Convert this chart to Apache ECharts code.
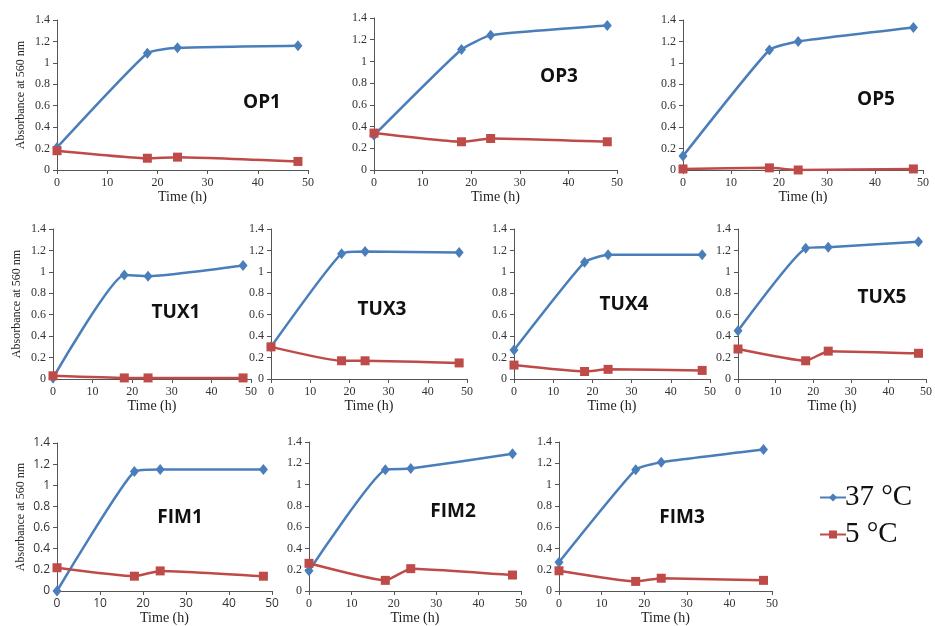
<!DOCTYPE html>
<html>
<head>
<meta charset="utf-8">
<script src="https://cdn.jsdelivr.net/npm/echarts@6/dist/echarts.min.js"></script>
<style>
  html, body { margin: 0; padding: 0; background: #fff; }
  #chart { width: 935px; height: 626px; }
</style>
</head>
<body>
<div id="chart"></div>
<script>
// sampling times (h)
const times = [0, 18, 24, 48];
const panelNames = ["OP1", "OP3", "OP5", "TUX1", "TUX3", "TUX4", "TUX5", "FIM1", "FIM2", "FIM3"];
const xTicks = [0, 10, 20, 30, 40, 50];
const yTicks = [0, 0.2, 0.4, 0.6, 0.8, 1, 1.2, 1.4];

// absorbance at 560 nm, 37 °C
const OP1_37 = [0.21, 1.09, 1.14, 1.16];
const OP3_37 = [0.32, 1.11, 1.24, 1.33];
const OP5_37 = [0.13, 1.12, 1.20, 1.33];
const TUX1_37 = [0.01, 0.97, 0.96, 1.06];
const TUX3_37 = [0.30, 1.17, 1.19, 1.18];
const TUX4_37 = [0.27, 1.09, 1.16, 1.16];
const TUX5_37 = [0.45, 1.22, 1.23, 1.28];
const FIM1_37 = [0.00, 1.13, 1.15, 1.15];
const FIM2_37 = [0.19, 1.14, 1.15, 1.29];
const FIM3_37 = [0.27, 1.14, 1.21, 1.33];

// absorbance at 560 nm, 5 °C
const OP1_5 = [0.18, 0.11, 0.12, 0.08];
const OP3_5 = [0.34, 0.26, 0.29, 0.26];
const OP5_5 = [0.01, 0.02, 0.00, 0.01];
const TUX1_5 = [0.03, 0.01, 0.01, 0.01];
const TUX3_5 = [0.30, 0.17, 0.17, 0.15];
const TUX4_5 = [0.13, 0.07, 0.09, 0.08];
const TUX5_5 = [0.28, 0.17, 0.26, 0.24];
const FIM1_5 = [0.22, 0.14, 0.19, 0.14];
const FIM2_5 = [0.26, 0.10, 0.21, 0.15];
const FIM3_5 = [0.19, 0.09, 0.12, 0.10];

const warm = [OP1_37, OP3_37, OP5_37, TUX1_37, TUX3_37, TUX4_37, TUX5_37, FIM1_37, FIM2_37, FIM3_37];
const cold = [OP1_5, OP3_5, OP5_5, TUX1_5, TUX3_5, TUX4_5, TUX5_5, FIM1_5, FIM2_5, FIM3_5];

// layout: plot boxes [x0, y0, x1, y1] and panel label centres
const boxes = [
  [57, 20, 308, 170], [374, 18, 617, 170], [683, 20, 923, 170],
  [53, 229, 251, 379], [271, 229, 467, 379], [514, 229, 710, 379], [738, 229, 929, 379],
  [57, 443, 272, 593], [309, 442, 521, 593], [559, 442, 772, 593]
];
const labelPos = [
  [262, 103], [559, 77], [876, 100],
  [176, 313], [382, 310], [624, 305], [882, 298],
  [180, 518], [453, 512], [682, 518]
];
const withYName = [0, 3, 7];

const BLUE = "#4a7ebb";
const RED = "#be4b48";
const SERIF = "'Liberation Serif', 'DejaVu Serif', serif";
const SANS = "'Open Sans', 'Liberation Sans', sans-serif";

const myChart = echarts.init(document.getElementById("chart"), null, { renderer: "canvas" });

const grid = [], xAxis = [], yAxis = [], series = [], graphic = [];

boxes.forEach((b, i) => {
  const tickFont = i === 7 ? SANS : SERIF;
  grid.push({ left: b[0], top: b[1], width: b[2] - b[0], height: b[3] - b[1], containLabel: false });
  xAxis.push({
    gridIndex: i,
    type: "value",
    min: xTicks[0],
    max: xTicks[xTicks.length - 1],
    interval: 10,
    name: "Time (h)",
    nameLocation: "middle",
    nameGap: 20,
    nameTextStyle: { fontFamily: SERIF, fontSize: 14, color: "#222" },
    axisLine: { onZero: false, lineStyle: { color: "#555", width: 1 } },
    axisTick: { show: true, length: 4, lineStyle: { color: "#555" } },
    axisLabel: { fontFamily: tickFont, fontSize: 12, color: "#333", margin: 7 },
    splitLine: { show: false }
  });
  yAxis.push({
    gridIndex: i,
    type: "value",
    min: yTicks[0],
    max: yTicks[yTicks.length - 1],
    interval: 0.2,
    name: withYName.includes(i) ? "Absorbance at 560 nm" : "",
    nameLocation: "middle",
    nameGap: 30,
    nameTextStyle: { fontFamily: SERIF, fontSize: 12, color: "#222" },
    axisLine: { show: true, lineStyle: { color: "#555", width: 1 } },
    axisTick: { show: true, length: 4, lineStyle: { color: "#555" } },
    axisLabel: { fontFamily: tickFont, fontSize: 12, color: "#333", margin: 7 },
    splitLine: { show: false }
  });
  series.push({
    name: "37 °C",
    type: "line",
    xAxisIndex: i,
    yAxisIndex: i,
    smooth: 0.15,
    symbol: "diamond",
    symbolSize: [9, 11],
    itemStyle: { color: BLUE },
    lineStyle: { color: BLUE, width: 2.5 },
    data: times.map((t, k) => [t, warm[i][k]])
  });
  series.push({
    name: "5 °C",
    type: "line",
    xAxisIndex: i,
    yAxisIndex: i,
    smooth: 0.15,
    symbol: "rect",
    symbolSize: 9,
    itemStyle: { color: RED },
    lineStyle: { color: RED, width: 2.5 },
    data: times.map((t, k) => [t, cold[i][k]])
  });
  graphic.push({
    type: "text",
    x: labelPos[i][0],
    y: labelPos[i][1],
    style: {
      text: panelNames[i],
      font: "bold 19px " + SANS,
      fill: "#111",
      align: "center",
      verticalAlign: "middle"
    }
  });
});

myChart.setOption({
  animation: false,
  backgroundColor: "#fff",
  grid: grid,
  xAxis: xAxis,
  yAxis: yAxis,
  legend: {
    data: ["37 °C", "5 °C"],
    orient: "vertical",
    left: 814,
    top: 478,
    itemGap: 8,
    itemWidth: 26,
    itemHeight: 10,
    textStyle: { fontFamily: SERIF, fontSize: 29, color: "#111", padding: [0, 0, 0, -6] }
  },
  graphic: graphic,
  series: series
});
</script>
</body>
</html>
